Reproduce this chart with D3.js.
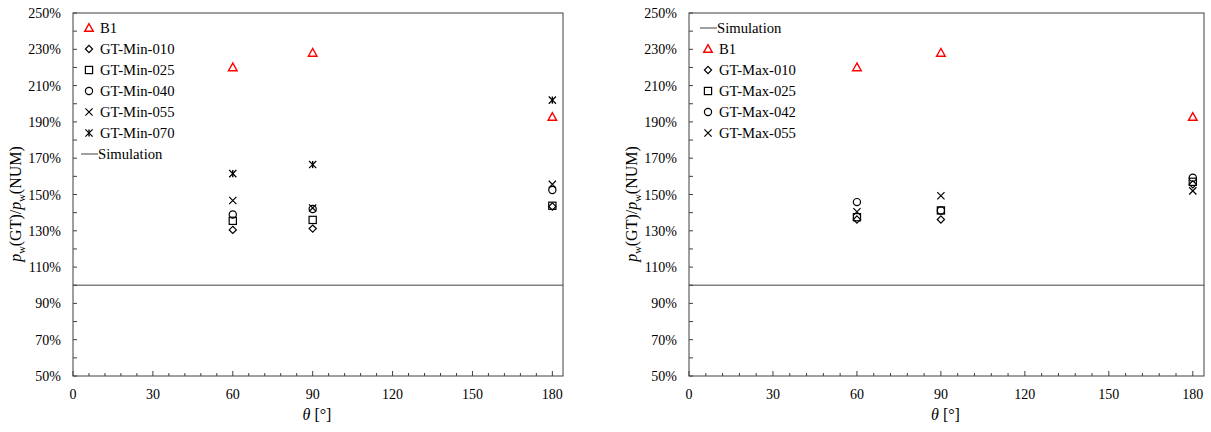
<!DOCTYPE html>
<html><head><meta charset="utf-8">
<script src="https://cdn.jsdelivr.net/npm/d3@7"></script>
<style>
body{margin:0;background:#fff;}
svg{display:block;font-family:"Liberation Serif","Times New Roman",serif;}
</style></head>
<body><svg id="c" width="1211" height="432"></svg>
<script>
// ---- data ----
const theta = [60, 90, 180];
const xTicks = [0, 30, 60, 90, 120, 150, 180];
const yTicks = [50, 70, 90, 110, 130, 150, 170, 190, 210, 230, 250];
const simulation = 100;

// left panel (GT-Min)
const b1Left = [220, 228, 192.7];
const gtMin010 = [130.5, 131.2, 143.4];
const gtMin025 = [135.5, 136, 143.8];
const gtMin040 = [139, 142, 152.5];
const gtMin055 = [146.7, 142.6, 155.6];
const gtMin070 = [161.5, 166.5, 202];

// right panel (GT-Max)
const b1Right = [220, 228, 192.7];
const gtMax010 = [136.2, 136.2, 155.6];
const gtMax025 = [137.5, 141.2, 157];
const gtMax042 = [145.8, 141.2, 159.2];
const gtMax055 = [140.5, 149.3, 152];

const leftSeries = [
  {name: "B1", type: "triangle", values: b1Left},
  {name: "GT-Min-010", type: "diamond", values: gtMin010},
  {name: "GT-Min-025", type: "square", values: gtMin025},
  {name: "GT-Min-040", type: "circle", values: gtMin040},
  {name: "GT-Min-055", type: "x", values: gtMin055},
  {name: "GT-Min-070", type: "star", values: gtMin070},
  {name: "Simulation", type: "line", values: null}
];
const rightSeries = [
  {name: "Simulation", type: "line", values: null},
  {name: "B1", type: "triangle", values: b1Right},
  {name: "GT-Max-010", type: "diamond", values: gtMax010},
  {name: "GT-Max-025", type: "square", values: gtMax025},
  {name: "GT-Max-042", type: "circle", values: gtMax042},
  {name: "GT-Max-055", type: "x", values: gtMax055}
];

const svg = d3.select("#c");

function marker(g, type, cx, cy) {
  const s = 3.6;
  if (type === "triangle") {
    g.append("path").attr("d", `M${cx},${cy-4.4}L${cx-4.3},${cy+3.3}L${cx+4.3},${cy+3.3}Z`)
      .attr("fill", "none").attr("stroke", "#ff0000").attr("stroke-width", 1.4);
  } else if (type === "diamond") {
    g.append("path").attr("d", `M${cx},${cy-s}L${cx+s},${cy}L${cx},${cy+s}L${cx-s},${cy}Z`)
      .attr("fill", "none").attr("stroke", "#000").attr("stroke-width", 1.2);
  } else if (type === "square") {
    g.append("rect").attr("x", cx-s).attr("y", cy-s).attr("width", 2*s).attr("height", 2*s)
      .attr("fill", "none").attr("stroke", "#000").attr("stroke-width", 1.2);
  } else if (type === "circle") {
    g.append("circle").attr("cx", cx).attr("cy", cy).attr("r", s)
      .attr("fill", "none").attr("stroke", "#000").attr("stroke-width", 1.2);
  } else if (type === "x" || type === "star") {
    g.append("path").attr("d", `M${cx-s},${cy-s}L${cx+s},${cy+s}M${cx-s},${cy+s}L${cx+s},${cy-s}`)
      .attr("stroke", "#000").attr("stroke-width", 1.2);
    if (type === "star")
      g.append("path").attr("d", `M${cx},${cy-s}L${cx},${cy+s}`).attr("stroke", "#000").attr("stroke-width", 1.4);
  }
}

function panel(left, right, series, legendX, titleX) {
  const top = 13, bottom = 376;
  const x = d3.scaleLinear().domain([0, 184]).range([left, right]);
  const y = d3.scaleLinear().domain([50, 250]).range([bottom, top]);
  const g = svg.append("g");

  // simulation line
  g.append("line").attr("x1", x(0)).attr("x2", x(184)).attr("y1", y(simulation)).attr("y2", y(simulation))
    .attr("stroke", "#808080").attr("stroke-width", 1.5);

  // frame
  g.append("rect").attr("x", left).attr("y", top).attr("width", right-left).attr("height", bottom-top)
    .attr("fill", "none").attr("stroke", "#404040").attr("stroke-width", 1);

  // x axis ticks (inward)
  const xt = d3.range(0, 181, 6);
  g.selectAll(null).data(xt).enter().append("line")
    .attr("x1", d => x(d)).attr("x2", d => x(d))
    .attr("y1", bottom).attr("y2", d => bottom - (d % 30 === 0 ? 5 : 3))
    .attr("stroke", "#404040").attr("stroke-width", 1);
  g.selectAll(null).data(xTicks).enter().append("text")
    .attr("x", d => x(d)).attr("y", 399).attr("text-anchor", "middle")
    .attr("font-size", 14).text(d => d);

  // y axis ticks (inward)
  const yt = d3.range(50, 251, 10);
  g.selectAll(null).data(yt).enter().append("line")
    .attr("x1", left).attr("x2", left + 4)
    .attr("y1", d => y(d)).attr("y2", d => y(d))
    .attr("stroke", "#404040").attr("stroke-width", 1);
  g.selectAll(null).data(yTicks).enter().append("text")
    .attr("x", left - 12).attr("y", d => y(d) + 5).attr("text-anchor", "end")
    .attr("font-size", 14).text(d => d + "%");

  // axis titles
  const xt2 = g.append("text").attr("x", (left + right) / 2 - 1).attr("y", 420)
    .attr("text-anchor", "middle").attr("font-size", 16);
  xt2.append("tspan").attr("font-style", "italic").text("θ");
  xt2.append("tspan").text(" [°]");

  const yt2 = g.append("text").attr("transform", `translate(${titleX},${204}) rotate(-90)`)
    .attr("text-anchor", "middle").attr("font-size", 16);
  yt2.append("tspan").attr("font-style", "italic").text("p");
  yt2.append("tspan").attr("font-size", 10.5).attr("dy", 4).text("w");
  yt2.append("tspan").attr("dy", -4).text("(GT)/");
  yt2.append("tspan").attr("font-style", "italic").text("p");
  yt2.append("tspan").attr("font-size", 10.5).attr("dy", 4).text("w");
  yt2.append("tspan").attr("dy", -4).text("(NUM)");

  // markers
  series.forEach(s => {
    if (!s.values) return;
    s.values.forEach((v, i) => marker(g, s.type, x(theta[i]), y(v)));
  });

  // legend
  series.forEach((s, i) => {
    const ly = 28 + i * 21;
    if (s.type === "line") {
      g.append("line").attr("x1", legendX - 8).attr("x2", legendX + 9).attr("y1", ly).attr("y2", ly)
        .attr("stroke", "#808080").attr("stroke-width", 1.5);
      g.append("text").attr("x", legendX + 9).attr("y", ly + 5).attr("font-size", 14.7).text(s.name);
    } else {
      marker(g, s.type, legendX, ly);
      g.append("text").attr("x", legendX + 11).attr("y", ly + 5).attr("font-size", 14.7).text(s.name);
    }
  });
}

panel(73, 563, leftSeries, 89, 21);
panel(689, 1204, rightSeries, 708, 637);
</script></body></html>
